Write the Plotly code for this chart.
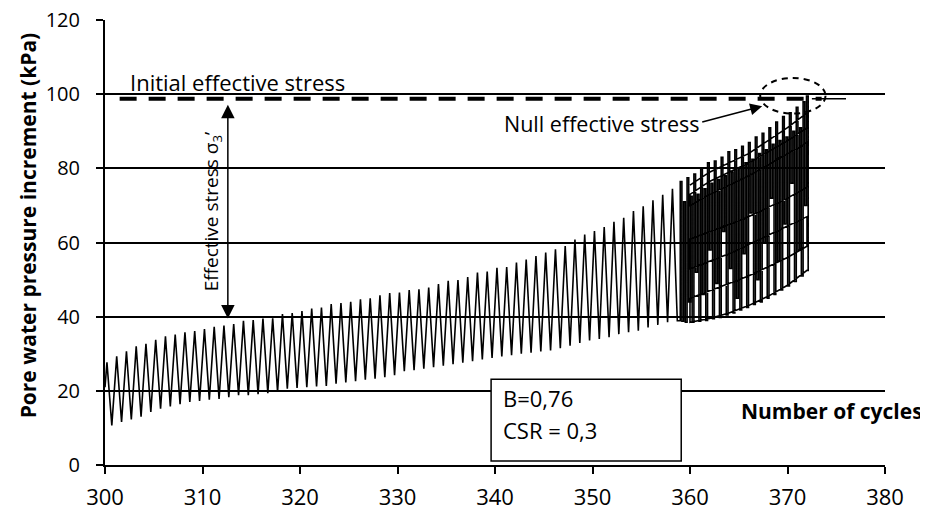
import plotly.graph_objects as go

# ---------------- data ----------------
cycles = list(range(300, 359))  # regular cycles 300..358

peaks = [27.7, 29.3, 30.7, 32.0, 32.7, 33.8, 34.7, 35.2, 35.8, 36.1,
         36.7, 37.3, 37.6, 38.0, 38.9, 39.1, 39.5, 39.6, 40.7, 41.0,
         41.5, 42.2, 42.5, 43.4, 43.7, 44.0, 44.7, 45.0, 45.8, 46.4,
         46.5, 47.2, 47.4, 47.9, 48.8, 49.7, 49.9, 50.7, 51.9, 52.2,
         53.2, 53.4, 54.6, 55.4, 56.4, 57.3, 58.2, 59.1, 60.8, 62.2,
         63.1, 64.2, 65.6, 66.7, 68.5, 69.8, 71.4, 72.9, 74.5]

troughs = [10.7, 11.6, 12.3, 13.0, 14.3, 15.2, 15.8, 16.4, 17.0, 17.3,
           17.6, 17.8, 18.3, 18.8, 18.8, 19.1, 19.4, 19.7, 20.6, 20.8,
           21.0, 21.2, 21.3, 21.9, 22.3, 22.6, 23.0, 23.3, 23.7, 24.2,
           25.3, 25.6, 26.0, 26.4, 26.8, 27.2, 27.6, 28.0, 28.5, 28.9,
           29.3, 29.6, 30.0, 30.3, 30.6, 30.9, 31.5, 32.2, 32.9, 33.6,
           34.0, 34.5, 35.3, 35.8, 36.2, 37.1, 37.8, 38.5, 38.9]

start_value = 21.0

# final (liquefaction) cycles: x position, top and bottom of each stroke
mesh_x = [359.00, 359.35, 359.70, 360.05, 360.40, 360.75, 361.10, 361.45,
          361.80, 362.15, 362.50, 362.85, 363.20, 363.55, 363.90, 364.25,
          364.60, 364.95, 365.30, 365.65, 366.00, 366.35, 366.70, 367.05,
          367.40, 367.75, 368.10, 368.45, 368.80, 369.15, 369.50, 369.85,
          370.20, 370.55, 370.90, 371.25, 371.60, 371.95]
mesh_top = [76.5, 71.0, 77.5, 72.5, 78.5, 73.0, 80.0, 74.5,
            81.5, 76.0, 82.0, 77.0, 83.0, 78.0, 84.5, 79.0,
            85.0, 80.0, 86.0, 81.5, 87.0, 82.5, 88.5, 84.0,
            89.5, 85.0, 91.0, 86.5, 92.5, 87.5, 94.0, 88.5,
            95.0, 90.0, 96.5, 91.0, 98.0, 99.5]
mesh_bottom = [38.8, 38.5, 44.0, 38.5, 52.0, 38.8, 46.0, 39.0,
               58.0, 39.5, 49.0, 39.8, 63.0, 40.5, 53.0, 41.0,
               45.0, 41.8, 57.0, 42.5, 68.0, 43.3, 50.0, 44.0,
               60.0, 45.0, 72.0, 46.0, 55.0, 47.2, 65.0, 48.3,
               76.0, 49.5, 58.0, 51.0, 70.0, 52.5]

sweep_x = [360.0, 362.0, 364.0, 366.0, 368.0, 370.0, 372.0]
sweep_lower = [38.5, 39.5, 41.0, 43.0, 45.5, 48.5, 52.5]
sweep_a = [45.0, 47.0, 49.0, 51.0, 53.5, 56.0, 59.0]
sweep_b = [53.0, 55.0, 57.0, 59.5, 62.0, 64.5, 67.0]
sweep_c = [61.0, 63.0, 65.0, 67.0, 69.5, 72.0, 75.0]
sweep_d = [70.0, 73.0, 75.5, 78.0, 81.0, 84.0, 87.0]
sweep_e = [73.0, 76.5, 79.0, 81.5, 84.5, 87.5, 91.0]
sweep_f = [75.5, 79.0, 81.5, 84.0, 87.5, 91.0, 95.0]

initial_stress = 98.8
x_range = [300, 380]
y_range = [0, 120.05]
x_ticks = [300, 310, 320, 330, 340, 350, 360, 370, 380]
y_ticks = [0, 20, 40, 60, 80, 100, 120]

# ---------------- build the path ----------------
px, py = [300.0], [start_value]
for c, p, t in zip(cycles, peaks, troughs):
    px += [c + 0.2, c + 0.7]
    py += [p, t]

prev_bottom = troughs[-1]
for x, top, bot in zip(mesh_x, mesh_top, mesh_bottom):
    px += [x, x, x + 0.17, x + 0.17]
    py += [prev_bottom, top, top, bot]
    prev_bottom = bot

sweeps = [sweep_lower, sweep_a, sweep_b, sweep_c, sweep_d, sweep_e, sweep_f]
direction = -1
for s in sweeps:
    px += sweep_x[::direction]
    py += s[::direction]
    direction *= -1

FONT = "Open Sans"
fig = go.Figure()

fig.add_trace(go.Scatter(x=px, y=py, mode="lines",
                         line=dict(color="black", width=1.6),
                         showlegend=False, hoverinfo="skip"))

# initial effective stress dashed line
fig.add_trace(go.Scatter(x=[301.5, 373.5], y=[initial_stress, initial_stress],
                         mode="lines", line=dict(color="black", width=4, dash="17px,12px"),
                         showlegend=False, hoverinfo="skip"))
fig.add_trace(go.Scatter(x=[372.5, 376.0], y=[initial_stress, initial_stress],
                         mode="lines", line=dict(color="black", width=1.5),
                         showlegend=False, hoverinfo="skip"))

# dashed ellipse
fig.add_shape(type="circle", xref="x", yref="y", x0=367.2, x1=373.9, y0=94.8, y1=104.4,
              line=dict(color="black", width=2, dash="6px,5px"))

# info box
fig.add_shape(type="rect", xref="x", yref="y", x0=339.6, x1=359.1, y0=1.1, y1=23.1,
              line=dict(color="black", width=1.5), fillcolor="white")

annotations = [
    dict(x=302.4, y=103.4, xref="x", yref="y", text="Initial effective stress",
         showarrow=False, xanchor="left", yanchor="middle",
         font=dict(family=FONT, size=22, color="black")),
    dict(x=312.6, y=39.5, ax=312.6, ay=97.6, xref="x", yref="y", axref="x", ayref="y",
         text="", showarrow=True, arrowhead=2, arrowside="end+start", arrowsize=1.8,
         arrowwidth=1.5, arrowcolor="black"),
    dict(x=311.0, y=68.5, xref="x", yref="y", text="Effective stress σ<sub>3</sub>’",
         showarrow=False, textangle=-90, xanchor="center", yanchor="middle",
         font=dict(family=FONT, size=19, color="black")),
    dict(x=367.4, y=96.8, ax=361.1, ay=92.4, xref="x", yref="y", axref="x", ayref="y",
         text="", showarrow=True, arrowhead=2, arrowsize=1.6, arrowwidth=1.5,
         arrowcolor="black"),
    dict(x=361.1, y=92.0, xref="x", yref="y", text="Null effective stress",
         showarrow=False, xanchor="right", yanchor="middle",
         font=dict(family=FONT, size=21.5, color="black")),
    dict(x=340.6, y=18.0, xref="x", yref="y", text="B=0,76",
         showarrow=False, xanchor="left", yanchor="middle",
         font=dict(family=FONT, size=22, color="black")),
    dict(x=340.6, y=9.4, xref="x", yref="y", text="CSR = 0,3",
         showarrow=False, xanchor="left", yanchor="middle",
         font=dict(family=FONT, size=22, color="black")),
    dict(x=1.051, y=14.5, xref="paper", yref="y", text="<b>Number of cycles</b>",
         showarrow=False, xanchor="right", yanchor="middle",
         font=dict(family=FONT, size=21, color="black")),
    dict(x=-0.099, y=0.538, xref="paper", yref="paper",
         text="<b>Pore water pressure increment (kPa)</b>",
         showarrow=False, textangle=-90, xanchor="center", yanchor="middle",
         font=dict(family=FONT, size=21, color="black")),
]

fig.update_layout(
    width=928, height=516,
    margin=dict(l=97, r=51, t=12, b=59),
    paper_bgcolor="white", plot_bgcolor="white",
    annotations=annotations,
    font=dict(family=FONT, size=20, color="black"),
)
fig.update_xaxes(range=x_range, tickvals=x_ticks, showgrid=False, zeroline=False,
                 automargin=False, ticklabeloverflow="allow",
                 showline=True, linecolor="black", linewidth=2,
                 ticks="outside", ticklen=7, tickwidth=2, tickcolor="black",
                 ticklabelstandoff=5, tickfont=dict(family=FONT, size=22))
fig.update_yaxes(range=y_range, tickvals=y_ticks, showgrid=True, gridcolor="black",
                 gridwidth=1.6, zeroline=False, showline=True, linecolor="black",
                 automargin=False, ticklabeloverflow="allow",
                 linewidth=2, ticks="outside", ticklen=7, tickwidth=2, tickcolor="black",
                 ticklabelstandoff=12, tickfont=dict(family=FONT, size=20))

fig.write_html("out.html")
